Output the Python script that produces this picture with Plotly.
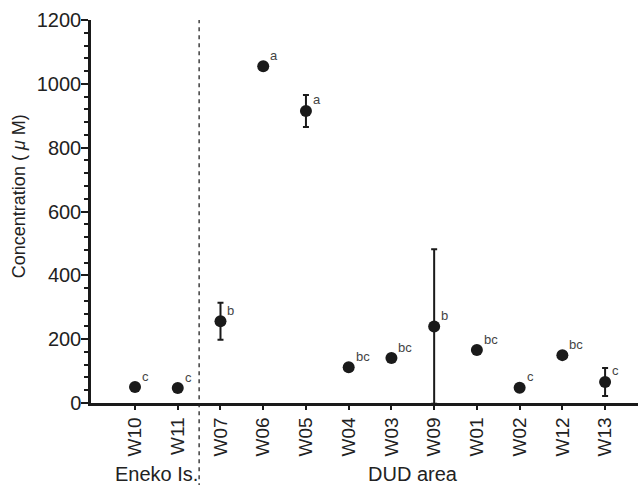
import plotly.graph_objects as go

sites = ["W10", "W11", "W07", "W06", "W05", "W04", "W03", "W09", "W01", "W02", "W12", "W13"]
conc = [50, 47, 256, 1055, 915, 112, 141, 240, 166, 48, 150, 66]
err = [0, 0, 58, 0, 50, 0, 0, 242, 8, 0, 0, 44]
letters = ["c", "c", "b", "a", "a", "bc", "bc", "b", "bc", "c", "bc", "c"]
groups = ["Eneko Is.", "DUD area"]
group_members = [["W10", "W11"], ["W07", "W06", "W05", "W04", "W03", "W09", "W01", "W02", "W12", "W13"]]

idx = list(range(len(sites)))

fig = go.Figure()
fig.add_trace(go.Scatter(
    x=idx, y=conc, mode="markers",
    marker=dict(size=12, color="#1a1a1a"),
    error_y=dict(type="data", array=err, visible=True, color="#1a1a1a", thickness=2, width=3),
    showlegend=False, cliponaxis=True,
))

for i, (v, l) in enumerate(zip(conc, letters)):
    fig.add_annotation(x=i, y=v, text=l, showarrow=False, xanchor="left", yanchor="middle",
                       xshift=5, yshift=11, font=dict(size=13, color="#444444"))

for g, members in zip(groups, group_members):
    pos = [sites.index(m) for m in members]
    fig.add_annotation(x=(min(pos) + max(pos)) / 2, y=-0.185, xref="x", yref="paper", text=g,
                       showarrow=False, yanchor="middle", font=dict(size=20, color="#222222"))

fig.add_annotation(x=0, y=0.54, xref="paper", yref="paper", xshift=-72, textangle=-90,
                   text="Concentration ( <i>μ</i> M)", showarrow=False,
                   xanchor="center", yanchor="middle", font=dict(size=18, color="#222222"))

fig.add_shape(type="line", x0=1.5, x1=1.5, y0=-0.22, y1=1.0, xref="x", yref="paper",
              line=dict(color="#222222", width=1.3, dash="4px,4px"))

fig.update_layout(
    width=638, height=485,
    margin=dict(l=91, r=0, t=20, b=82),
    plot_bgcolor="white", paper_bgcolor="white",
    font=dict(family="Liberation Sans, Arial, sans-serif", color="#222222"),
    xaxis=dict(
        range=[-1.03, 11.77], tickmode="array", tickvals=idx, ticktext=sites,
        tickangle=-90, tickfont=dict(size=19), showgrid=False, zeroline=False,
        showline=True, linecolor="#1a1a1a", linewidth=2.5,
        ticks="outside", ticklen=4, tickwidth=1.5, tickcolor="#1a1a1a",
    ),
    yaxis=dict(
        range=[0, 1200], tickvals=[0, 200, 400, 600, 800, 1000, 1200],
        tickfont=dict(size=20), showgrid=False, zeroline=False,
        showline=True, linecolor="#1a1a1a", linewidth=2.5,
        ticks="outside", ticklen=7, tickwidth=1.5, tickcolor="#1a1a1a",
        ticklabelstandoff=-4,
        minor=dict(dtick=40, ticks="outside", ticklen=4, tickwidth=1.5, tickcolor="#1a1a1a"),
    ),
)

fig.write_html("out.html")
